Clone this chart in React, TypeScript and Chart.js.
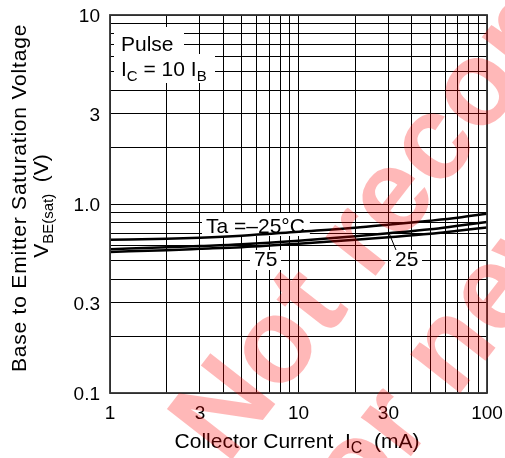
import React, { useEffect, useRef } from 'react';
import { Chart, registerables } from 'chart.js';

Chart.register(...registerables);

// ---- data ----
const collectorCurrent = [1, 2, 3, 5, 10, 20, 30, 50, 70, 100];
const vbeTaMinus25 = [0.647, 0.655, 0.663, 0.679, 0.713, 0.749, 0.777, 0.816, 0.846, 0.888];
const vbeTa25 = [0.577, 0.590, 0.599, 0.612, 0.639, 0.675, 0.700, 0.735, 0.767, 0.803];
const vbeTa75 = [0.558, 0.570, 0.579, 0.591, 0.616, 0.647, 0.667, 0.696, 0.722, 0.751];

const xTickValues = [1, 3, 10, 30, 100];
const xTickLabels = ['1', '3', '10', '30', '100'];
const yTickValues = [0.1, 0.3, 1, 3, 10];
const yTickLabels = ['0.1', '0.3', '1.0', '3', '10'];

const gridMantissas = [1, 2, 3, 4, 5, 6, 7, 8, 9];
const xDecades = [1, 10];
const yDecades = [0.1, 1];
const xGridValues = [...xDecades.flatMap((d) => gridMantissas.map((m) => m * d)), 100];
const yGridValues = [...yDecades.flatMap((d) => gridMantissas.map((m) => +(m * d).toPrecision(3))), 10];

const FONT = "'Liberation Sans', Arial, Helvetica, sans-serif";

type Part = { t: string; sub?: boolean };

function richWidth(ctx: CanvasRenderingContext2D, parts: Part[], size: number, subSize: number) {
  let w = 0;
  for (const p of parts) {
    ctx.font = `${p.sub ? subSize : size}px ${FONT}`;
    w += ctx.measureText(p.t).width;
  }
  return w;
}

function drawRich(
  ctx: CanvasRenderingContext2D,
  parts: Part[],
  x: number,
  y: number,
  size: number,
  subSize: number,
  subDrop: number,
  align: 'left' | 'center'
) {
  const total = richWidth(ctx, parts, size, subSize);
  let cx = align === 'center' ? x - total / 2 : x;
  ctx.textAlign = 'left';
  ctx.textBaseline = 'alphabetic';
  for (const p of parts) {
    ctx.font = `${p.sub ? subSize : size}px ${FONT}`;
    ctx.fillText(p.t, cx, p.sub ? y + subDrop : y);
    cx += ctx.measureText(p.t).width;
  }
  return total;
}

const decorPlugin = {
  id: 'decor',
  beforeDatasetsDraw(chart: any) {
    const ctx: CanvasRenderingContext2D = chart.ctx;
    ctx.save();
    ctx.fillStyle = '#fff';
    // label boxes (cover grid)
    ctx.fillRect(114, 27, 70, 27);
    ctx.fillRect(114, 54, 101, 29);
    ctx.font = `21px ${FONT}`;
    const taText = 'Ta =\u201325\u00b0C';
    const taW = ctx.measureText(taText).width;
    ctx.fillRect(202, 213, taW + 9, 23);
    ctx.fillRect(250, 250, 31, 20);
    ctx.fillRect(391, 250, 31, 20);

    ctx.fillStyle = '#000';
    ctx.textAlign = 'left';
    ctx.textBaseline = 'alphabetic';
    ctx.font = `21px ${FONT}`;
    ctx.fillText('Pulse', 121, 51);
    drawRich(ctx, [{ t: 'I' }, { t: 'C', sub: true }, { t: ' = 10 I' }, { t: 'B', sub: true }], 121, 75.5, 21, 15, 5, 'left');
    ctx.font = `21px ${FONT}`;
    ctx.fillText(taText, 206, 233);
    ctx.fillText('75', 254, 266);
    ctx.fillText('25', 395, 266);
    ctx.strokeStyle = '#000';
    ctx.lineWidth = 1;
    ctx.beginPath();
    ctx.moveTo(389, 233);
    ctx.lineTo(396, 250);
    ctx.stroke();
    ctx.restore();
  },
  afterDatasetsDraw(chart: any) {
    const ctx: CanvasRenderingContext2D = chart.ctx;
    const a = chart.chartArea;
    ctx.save();
    ctx.strokeStyle = '#333';
    ctx.lineWidth = 1.8;
    ctx.strokeRect(a.left, a.top, a.right - a.left, a.bottom - a.top);
    ctx.restore();
  },
  afterDraw(chart: any) {
    const ctx: CanvasRenderingContext2D = chart.ctx;
    const xs = chart.scales.x;
    const ys = chart.scales.y;
    ctx.save();
    ctx.fillStyle = '#000';
    ctx.font = `19px ${FONT}`;
    // x tick labels
    ctx.textAlign = 'center';
    ctx.textBaseline = 'alphabetic';
    xTickValues.forEach((v, i) => {
      ctx.fillText(xTickLabels[i], xs.getPixelForValue(v), 419);
    });
    // y tick labels
    ctx.textAlign = 'right';
    yTickValues.forEach((v, i) => {
      ctx.fillText(yTickLabels[i], 100, ys.getPixelForValue(v) + 7);
    });
    // x title
    drawRich(ctx, [{ t: 'Collector Current  I' }, { t: 'C', sub: true }, { t: '  (mA)' }], 297, 448, 21, 16, 5, 'center');
    // y title
    ctx.save();
    ctx.translate(26, 198);
    ctx.rotate(-Math.PI / 2);
    ctx.font = `21px ${FONT}`;
    (ctx as any).letterSpacing = '0.8px';
    ctx.textAlign = 'center';
    ctx.fillText('Base to Emitter Saturation Voltage', 0, 0);
    (ctx as any).letterSpacing = '0px';
    ctx.restore();
    ctx.save();
    ctx.translate(48, 206);
    ctx.rotate(-Math.PI / 2);
    drawRich(ctx, [{ t: 'V' }, { t: 'BE(sat)', sub: true }, { t: '  (V)' }], 0, 0, 21, 15, 5, 'center');
    ctx.restore();

    // watermark
    const ang = (52 * Math.PI) / 180;
    ctx.fillStyle = 'rgba(255, 0, 0, 0.28)';
    ctx.font = `bold 120px ${FONT}`;
    ctx.textAlign = 'left';
    ctx.textBaseline = 'alphabetic';
    ctx.save();
    ctx.translate(227, 466);
    ctx.rotate(-ang);
    ctx.fillText('Not recommended', 0, 0);
    ctx.restore();
    ctx.save();
    ctx.translate(336, 552);
    ctx.rotate(-ang);
    ctx.fillText('for new design', 0, 0);
    ctx.restore();
    ctx.restore();
  },
};

export default function App() {
  const ref = useRef<HTMLCanvasElement | null>(null);
  useEffect(() => {
    if (!ref.current) return;
    const mk = (label: string, values: number[]) => ({
      label,
      data: collectorCurrent.map((c, i) => ({ x: c, y: values[i] })),
      borderColor: '#000',
      borderWidth: 2.5,
      pointRadius: 0,
      fill: false,
      tension: 0.35,
      cubicInterpolationMode: 'monotone' as const,
    });
    const chart = new Chart(ref.current, {
      type: 'line',
      data: {
        datasets: [mk('Ta = -25°C', vbeTaMinus25), mk('25', vbeTa25), mk('75', vbeTa75)],
      },
      options: {
        animation: false,
        responsive: false,
        devicePixelRatio: 1,
        layout: { padding: { top: 15, right: 18, left: 0, bottom: 0 } },
        plugins: { legend: { display: false }, tooltip: { enabled: false } },
        scales: {
          x: {
            type: 'logarithmic',
            min: 1,
            max: 100,
            afterBuildTicks: (s: any) => {
              s.ticks = xGridValues.map((v) => ({ value: v }));
            },
            afterFit: (s: any) => {
              s.height = 65;
            },
            ticks: { display: false },
            grid: { color: '#000', lineWidth: 1, drawTicks: false },
            border: { display: false },
          },
          y: {
            type: 'logarithmic',
            min: 0.1,
            max: 10,
            afterBuildTicks: (s: any) => {
              s.ticks = yGridValues.map((v) => ({ value: v }));
            },
            afterFit: (s: any) => {
              s.width = 110;
            },
            ticks: { display: false },
            grid: { color: '#000', lineWidth: 1, drawTicks: false },
            border: { display: false },
          },
        },
      },
      plugins: [decorPlugin],
    });
    return () => chart.destroy();
  }, []);
  return (
    <div style={{ position: 'fixed', left: 0, top: 0, width: 505, height: 458, background: '#fff' }}>
      <canvas ref={ref} width={505} height={458} style={{ display: 'block', width: 505, height: 458 }} />
    </div>
  );
}
